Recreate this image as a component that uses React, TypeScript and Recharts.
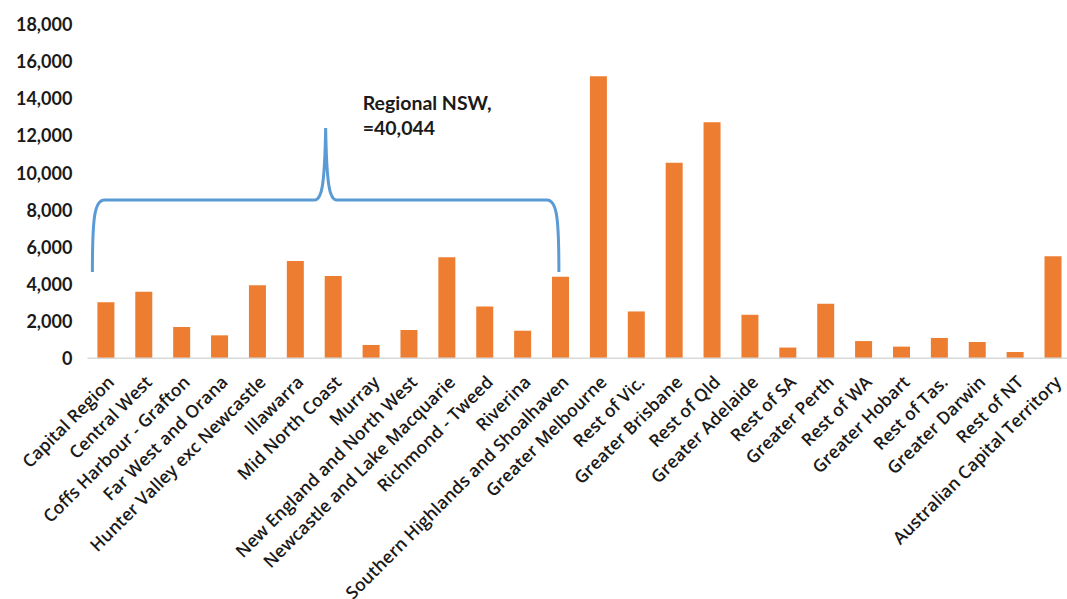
import React from 'react';
import { BarChart, Bar, XAxis, YAxis, ReferenceArea } from 'recharts';

// Categories and values
const REGIONS = [
  'Capital Region', 'Central West', 'Coffs Harbour - Grafton', 'Far West and Orana',
  'Hunter Valley exc Newcastle', 'Illawarra', 'Mid North Coast', 'Murray',
  'New England and North West', 'Newcastle and Lake Macquarie', 'Richmond - Tweed',
  'Riverina', 'Southern Highlands and Shoalhaven', 'Greater Melbourne', 'Rest of Vic.',
  'Greater Brisbane', 'Rest of Qld', 'Greater Adelaide', 'Rest of SA', 'Greater Perth',
  'Rest of WA', 'Greater Hobart', 'Rest of Tas.', 'Greater Darwin', 'Rest of NT',
  'Australian Capital Territory',
];
const COUNTS = [
  3030, 3590, 1690, 1240, 3950, 5260, 4450, 720, 1530, 5460, 2800, 1490, 4400,
  15230, 2530, 10560, 12750, 2350, 580, 2950, 930, 630, 1100, 880, 340, 5510,
];
const Y_TICKS = [0, 2000, 4000, 6000, 8000, 10000, 12000, 14000, 16000, 18000];

// bracket over the regional NSW group
const BRACE_FROM = 'Capital Region';
const BRACE_TO = 'Southern Highlands and Shoalhaven';
const BRACE_LOW = 4660;
const BRACE_HIGH = 12435;
const BRACE_LABEL = ['Regional NSW,', '=40,044'];

const data = REGIONS.map((region, i) => ({ region, count: COUNTS[i] }));

const ORANGE = '#ED7D31';
const BLUE = '#5B9BD5';

const XTick = ({ x, y, payload }: any) => (
  <text
    x={x + 9}
    y={y + 23}
    transform={`rotate(-45, ${x + 9}, ${y + 23})`}
    textAnchor="end"
    fill="#1a1a1a"
    fontSize={17.5}
    fontWeight={600}
    fontFamily="'Open Sans', sans-serif"
  >
    {payload.value}
  </text>
);

const Brace = ({ x, y, width, height }: any) => {
  const L = x + 5;
  const R = x + width - 21;
  const C = (L + R) / 2;
  const top = y;
  const bottom = y + height;
  const hy = y + height * 0.5;
  const d = [
    `M ${L} ${bottom}`,
    `C ${L} ${hy + 18} ${L + 2} ${hy} ${L + 12} ${hy}`,
    `L ${C - 11} ${hy}`,
    `C ${C - 4} ${hy} ${C - 1} ${hy - 14} ${C} ${top}`,
    `C ${C + 1} ${hy - 14} ${C + 4} ${hy} ${C + 11} ${hy}`,
    `L ${R - 12} ${hy}`,
    `C ${R - 2} ${hy} ${R} ${hy + 18} ${R} ${bottom}`,
  ].join(' ');
  return (
    <g>
      <path d={d} fill="none" stroke={BLUE} strokeWidth={3} />
      <text
        x={C + 37}
        y={top - 18}
        fill="#1a1a1a"
        fontSize={19.5}
        fontWeight={700}
        fontFamily="Lato, sans-serif"
      >
        <tspan x={C + 37}>{BRACE_LABEL[0]}</tspan>
        <tspan x={C + 37} dy={25}>{BRACE_LABEL[1]}</tspan>
      </text>
    </g>
  );
};

export default function App() {
  return (
    <div style={{ position: 'absolute', left: 0, top: 0, width: 1067, height: 599, overflow: 'hidden', background: '#fff' }}>
      <BarChart
        width={1080}
        height={599}
        data={data}
        margin={{ top: 25, right: 7.6, left: 0, bottom: 0 }}
      >
        <XAxis
          dataKey="region"
          interval={0}
          height={240.7}
          tickSize={0}
          tickLine={false}
          axisLine={{ stroke: '#d9d9d9', strokeWidth: 1.5 }}
          tick={<XTick />}
        />
        <YAxis
          width={87.4}
          domain={[0, 18000]}
          ticks={Y_TICKS}
          axisLine={false}
          tickLine={false}
          tickSize={0}
          tickMargin={15}
          tickFormatter={(v) => v.toLocaleString('en-US')}
          tick={{ fill: '#1a1a1a', fontSize: 18, fontWeight: 700, fontFamily: 'Lato, sans-serif' }}
        />
        <Bar dataKey="count" fill={ORANGE} barSize={17} isAnimationActive={false} />
        <ReferenceArea
          x1={BRACE_FROM}
          x2={BRACE_TO}
          y1={BRACE_LOW}
          y2={BRACE_HIGH}
          shape={<Brace />}
        />
      </BarChart>
    </div>
  );
}
